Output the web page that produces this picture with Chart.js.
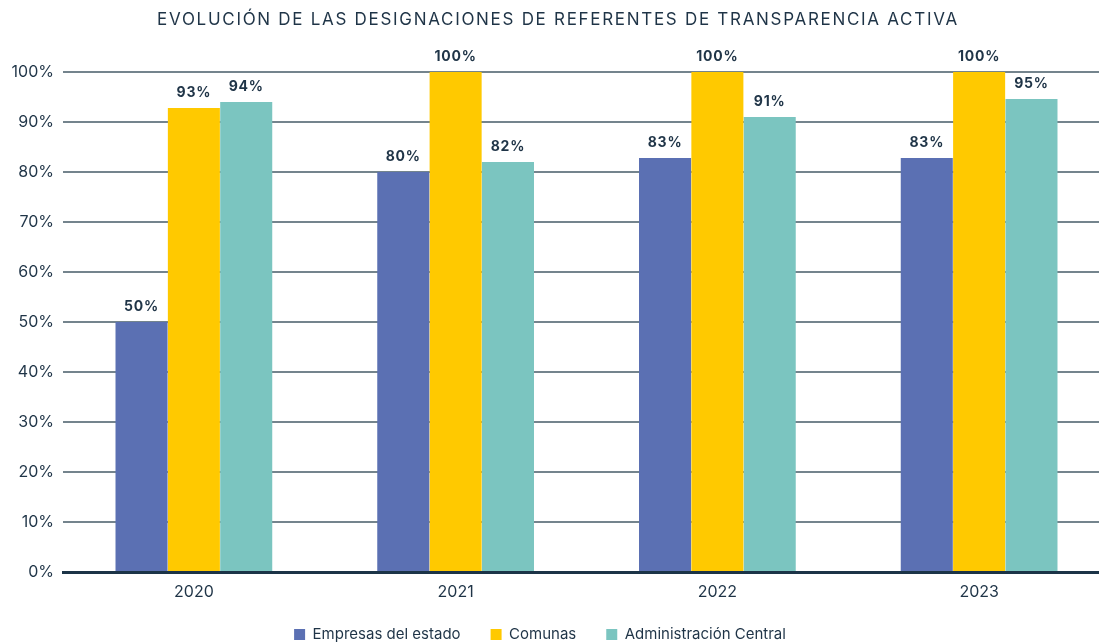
<!DOCTYPE html>
<html>
<head>
<meta charset="utf-8">
<script src="https://cdn.jsdelivr.net/npm/chart.js@4/dist/chart.umd.min.js"></script>
<style>
html,body{margin:0;padding:0;background:#fff;overflow:hidden;}
#wrap{width:1110px;height:643px;position:relative;}
</style>
</head>
<body>
<div id="wrap"><canvas id="c"></canvas></div>
<script>
const categories = ['2020', '2021', '2022', '2023'];
const empresas = [50, 80, 82.8, 82.8];
const comunas = [92.8, 100, 100, 100];
const administracion = [94, 82, 91, 94.6];
const seriesNames = ['Empresas del estado', 'Comunas', 'Administración Central'];
const yTicks = [0, 10, 20, 30, 40, 50, 60, 70, 80, 90, 100];
const titleText = 'EVOLUCIÓN DE LAS DESIGNACIONES DE REFERENTES DE TRANSPARENCIA ACTIVA';

const textColor = '#1f3447';
const fontFam = 'Inter, "Noto Sans", sans-serif';

const customPlugin = {
  id: 'custom',
  beforeLayout(chart) {
    const lg = chart.legend;
    if (lg && !lg._patched) {
      const f = lg.fit.bind(lg);
      lg.fit = function () { f(); this.height = 46; };
      lg._patched = true;
    }
  },
  afterLayout(chart) {
    const lg = chart.legend;
    if (lg) { lg.left -= 15; lg.right -= 15; }
  },
  afterDraw(chart) {
    const ctx = chart.ctx;
    ctx.save();
    ctx.fillStyle = textColor;
    ctx.font = '17px ' + fontFam;
    ctx.letterSpacing = '1.7px';
    ctx.textAlign = 'center';
    ctx.textBaseline = 'middle';
    ctx.fillText(titleText, 558, 20);
    ctx.restore();
  },
  afterDatasetsDraw(chart) {
    const ctx = chart.ctx;
    ctx.save();
    ctx.fillStyle = textColor;
    ctx.font = 'bold 14px ' + fontFam;
    ctx.letterSpacing = '0.8px';
    ctx.textAlign = 'center';
    ctx.textBaseline = 'alphabetic';
    chart.data.datasets.forEach((ds, i) => {
      const meta = chart.getDatasetMeta(i);
      meta.data.forEach((bar, j) => {
        ctx.fillText(Math.round(ds.data[j]) + '%', bar.x, bar.y - 11);
      });
    });
    ctx.restore();
  }
};

new Chart(document.getElementById('c'), {
  type: 'bar',
  data: {
    labels: categories,
    datasets: [
      { label: seriesNames[0], data: empresas, backgroundColor: '#5b70b3' },
      { label: seriesNames[1], data: comunas, backgroundColor: '#ffc900' },
      { label: seriesNames[2], data: administracion, backgroundColor: '#7bc5c0' }
    ]
  },
  options: {
    responsive: true,
    maintainAspectRatio: false,
    animation: false,
    layout: { padding: { left: 0, right: 0, top: 72, bottom: 0 } },
    datasets: { bar: { categoryPercentage: 0.6, barPercentage: 0.994 } },
    plugins: {
      title: { display: false },
      legend: {
        position: 'bottom',
        labels: {
          color: textColor,
          font: { family: fontFam, size: 15 },
          boxWidth: 11,
          boxHeight: 11,
          padding: 30
        }
      },
      tooltip: { enabled: false }
    },
    scales: {
      x: {
        grid: { display: false, drawTicks: false },
        border: { display: true, color: '#1c3447', width: 3 },
        ticks: { color: textColor, font: { family: fontFam, size: 16 }, padding: 11 },
        afterFit(axis) { axis.height = 25; }
      },
      y: {
        min: 0, max: 100,
        afterBuildTicks(axis) { axis.ticks = yTicks.map(v => ({ value: v })); },
        afterFit(axis) { axis.width = 63; },
        grid: { color: '#74848d', lineWidth: 2, drawTicks: false },
        border: { display: false },
        ticks: {
          color: textColor,
          font: { family: fontFam, size: 16 },
          padding: 9,
          callback: v => v + '%'
        }
      }
    }
  },
  plugins: [customPlugin]
});
</script>
</body>
</html>
